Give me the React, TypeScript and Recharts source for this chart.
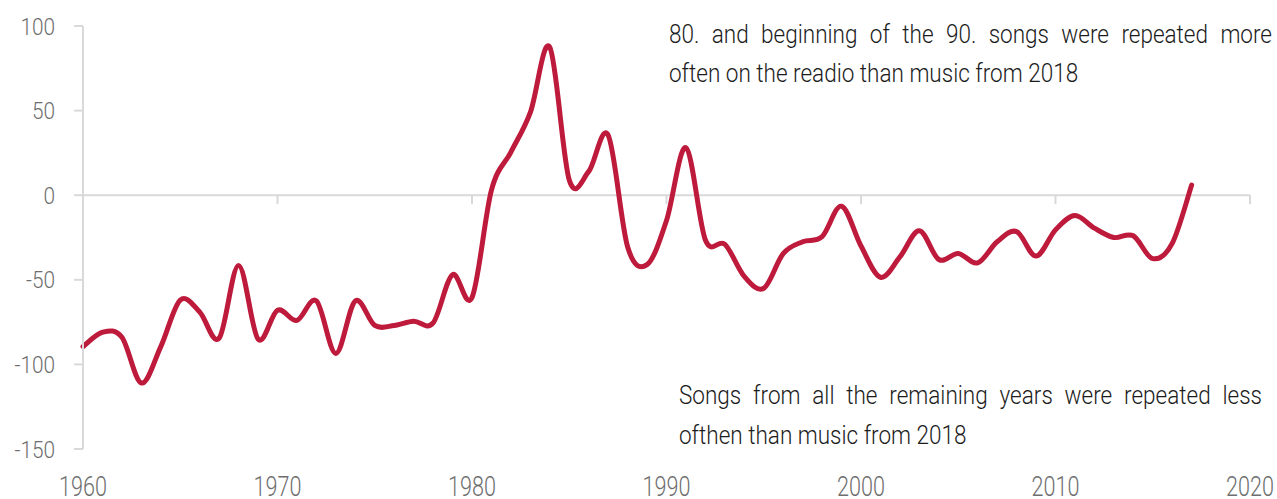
import React from "react";
import { LineChart, Line, XAxis, YAxis, ReferenceLine } from "recharts";

const years = [
  1960, 1961, 1962, 1963, 1964, 1965, 1966, 1967, 1968, 1969,
  1970, 1971, 1972, 1973, 1974, 1975, 1976, 1977, 1978, 1979,
  1980, 1981, 1982, 1983, 1984, 1985, 1986, 1987, 1988, 1989,
  1990, 1991, 1992, 1993, 1994, 1995, 1996, 1997, 1998, 1999,
  2000, 2001, 2002, 2003, 2004, 2005, 2006, 2007, 2008, 2009,
  2010, 2011, 2012, 2013, 2014, 2015, 2016, 2017,
];

const values = [
  -89.5, -81, -84, -111, -89.5, -62, -69, -84.5, -41.5, -85,
  -68, -74, -62.5, -93.5, -62.5, -77, -77, -74.5, -75.5, -47,
  -60.5, 3, 25.5, 49, 87.5, 9, 14, 35.5, -30.5, -41,
  -15, 28, -26.5, -29, -48, -55, -34.5, -27.5, -24.5, -6.5,
  -30, -48.5, -36.5, -21, -38, -34.5, -40, -27.5, -21.5, -36,
  -20.5, -12, -19.5, -25, -24, -37.5, -28.5, 6,
];

const xTicks = [1960, 1970, 1980, 1990, 2000, 2010, 2020];
const yTicks = [-150, -100, -50, 0, 50, 100];
const zeroTickYears = [1970, 1980, 1990, 2000, 2010, 2020];

const noteTopLines = [
  "80. and beginning of the 90. songs were repeated more",
  "often on the readio than music from 2018",
];
const noteBottomLines = [
  "Songs from all the remaining years were repeated less",
  "ofthen than music from 2018",
];

const data = years.map((year, i) => ({ year, value: values[i] }));

const GRID = "#d9d9d9";
const LINE = "#be1a3b";
const TICK_TEXT = "#6e6e6e";
const FONT = "Roboto, 'Liberation Sans', sans-serif";
const SX = 0.866;

// Catmull-Rom style smoothing (similar to spreadsheet "smoothed line")
const smoothCurve = (context: any) => {
  let pts: [number, number][] = [];
  return {
    areaStart() {},
    areaEnd() {},
    lineStart() {
      pts = [];
    },
    point(x: number, y: number) {
      pts.push([+x, +y]);
    },
    lineEnd() {
      const n = pts.length;
      if (!n) return;
      context.moveTo(pts[0][0], pts[0][1]);
      for (let i = 0; i < n - 1; i++) {
        const p0 = pts[i - 1] || pts[i];
        const p1 = pts[i];
        const p2 = pts[i + 1];
        const p3 = pts[i + 2] || p2;
        context.bezierCurveTo(
          p1[0] + (p2[0] - p0[0]) / 6,
          p1[1] + (p2[1] - p0[1]) / 6,
          p2[0] - (p3[0] - p1[0]) / 6,
          p2[1] - (p3[1] - p1[1]) / 6,
          p2[0],
          p2[1]
        );
      }
    },
  };
};

const YTick = (props: any) => {
  const { x, y, payload } = props;
  return (
    <text
      transform={`translate(${x},${y}) scale(${SX},1)`}
      textAnchor="end"
      dy="0.355em"
      fill={TICK_TEXT}
      fontSize={24}
      fontFamily={FONT}
      fontWeight={300}
    >
      {payload.value}
    </text>
  );
};

const XTick = (props: any) => {
  const { x, y, payload } = props;
  return (
    <text
      transform={`translate(${x},${y + 47}) scale(0.8,1)`}
      textAnchor="middle"
      fill={TICK_TEXT}
      fontSize={27}
      fontFamily={FONT}
      fontWeight={300}
    >
      {payload.value}
    </text>
  );
};

const Note = ({
  lines,
  left,
  top,
  width,
}: {
  lines: string[];
  left: number;
  top: number;
  width: number;
}) => (
  <div
    style={{
      position: "absolute",
      left,
      top,
      width: width / SX,
      transform: `scaleX(${SX})`,
      transformOrigin: "0 0",
      fontFamily: FONT,
      fontWeight: 300,
      fontSize: 26,
      lineHeight: "39.5px",
      color: "#1c1c1c",
      whiteSpace: "nowrap",
    }}
  >
    {lines.map((l, i) => (
      <div
        key={i}
        style={
          i === 0
            ? { textAlign: "justify", textAlignLast: "justify" as any, whiteSpace: "normal" }
            : { textAlign: "left" }
        }
      >
        {l}
      </div>
    ))}
  </div>
);

export default function App() {
  return (
    <div
      style={{
        position: "absolute",
        left: 0,
        top: 0,
        width: 1277,
        height: 499,
        background: "#ffffff",
      }}
    >
      <LineChart
        width={1277}
        height={499}
        data={data}
        margin={{ top: 26, right: 27, bottom: 0, left: 0 }}
      >
        <XAxis
          dataKey="year"
          type="number"
          domain={[1960, 2020]}
          ticks={xTicks}
          interval={0}
          axisLine={false}
          tickLine={false}
          tickSize={0}
          tickMargin={0}
          height={50}
          tick={<XTick />}
        />
        <YAxis
          type="number"
          domain={[-150, 100]}
          ticks={yTicks}
          interval={0}
          width={83}
          axisLine={{ stroke: GRID, strokeWidth: 2 }}
          tickLine={{ stroke: GRID, strokeWidth: 2 }}
          tickSize={9}
          tickMargin={19}
          tick={<YTick />}
        />
        <ReferenceLine y={0} stroke={GRID} strokeWidth={2} />
        {zeroTickYears.map((yr) => (
          <ReferenceLine
            key={yr}
            segment={[
              { x: yr, y: 0 },
              { x: yr, y: -5.3 },
            ]}
            stroke={GRID}
            strokeWidth={2}
          />
        ))}
        <Line
          dataKey="value"
          type={smoothCurve as any}
          stroke={LINE}
          strokeWidth={5}
          strokeLinecap="round"
          strokeLinejoin="round"
          dot={false}
          activeDot={false}
          isAnimationActive={false}
        />
      </LineChart>
      <Note lines={noteTopLines} left={669} top={14.7} width={603} />
      <Note lines={noteBottomLines} left={679} top={376.4} width={583} />
    </div>
  );
}
